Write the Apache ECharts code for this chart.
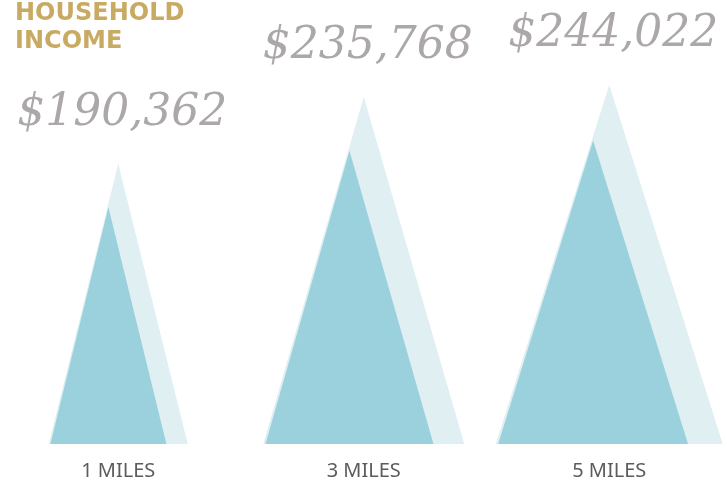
<!DOCTYPE html>
<html>
<head>
<meta charset="utf-8">
<script src="https://cdn.jsdelivr.net/npm/echarts@6/dist/echarts.min.js"></script>
<style>
html,body{margin:0;padding:0;background:#fff;}
#chart{width:727px;height:485px;}
</style>
</head>
<body>
<div id="chart"></div>
<script>
// ---- data ----
var titleText = 'HOUSEHOLD\nINCOME';
var categories = ['1 MILES', '3 MILES', '5 MILES'];
var incomeValues = [190362, 235768, 244022];

// ---- styling (sizes, not data) ----
var backWidths = [139, 201, 227];
var frontWidthRatio = 0.835;

var chart = echarts.init(document.getElementById('chart'));

var backData = incomeValues.map(function (v, i) {
  return { value: v, symbolSize: [backWidths[i], '100%'] };
});
var frontData = incomeValues.map(function (v, i) {
  return { value: v, symbolSize: [Math.round(backWidths[i] * frontWidthRatio), '84.5%'] };
});

chart.setOption({
  animation: false,
  backgroundColor: '#ffffff',
  title: {
    text: titleText,
    left: 10,
    top: -5,
    textStyle: {
      color: '#c9aa63',
      fontFamily: 'DejaVu Sans',
      fontWeight: 'bold',
      fontSize: 24,
      lineHeight: 28
    }
  },
  grid: {
    left: -4.5, width: 736.5, top: 2.5, bottom: 41,
    containLabel: false, outerBoundsMode: 'none'
  },
  xAxis: {
    type: 'category',
    data: categories,
    axisLine: { show: false },
    axisTick: { show: false },
    splitLine: { show: false },
    axisLabel: {
      margin: 17,
      color: '#5c5c5c',
      fontFamily: 'Noto Sans',
      fontSize: 20
    }
  },
  yAxis: {
    type: 'value',
    min: 0,
    max: 300000,
    show: false,
    splitLine: { show: false }
  },
  series: [
    {
      name: 'shadow',
      type: 'pictorialBar',
      symbol: 'triangle',
      symbolPosition: 'start',
      barGap: '-100%',
      z: 1,
      itemStyle: { color: '#dfeff2' },
      label: {
        show: true,
        position: 'top',
        distance: 28,
        offset: [4, 0],
        color: '#aca8a9',
        fontFamily: 'DejaVu Serif',
        fontStyle: 'italic',
        fontSize: 44,
        formatter: function (p) {
          return '$' + Number(p.value).toLocaleString('en-US');
        }
      },
      data: backData
    },
    {
      name: 'income',
      type: 'pictorialBar',
      symbol: 'triangle',
      symbolPosition: 'start',
      symbolOffset: ['-8.5%', 0],
      barGap: '-100%',
      z: 2,
      itemStyle: { color: '#9bd1dc' },
      data: frontData
    }
  ]
});
</script>
</body>
</html>
